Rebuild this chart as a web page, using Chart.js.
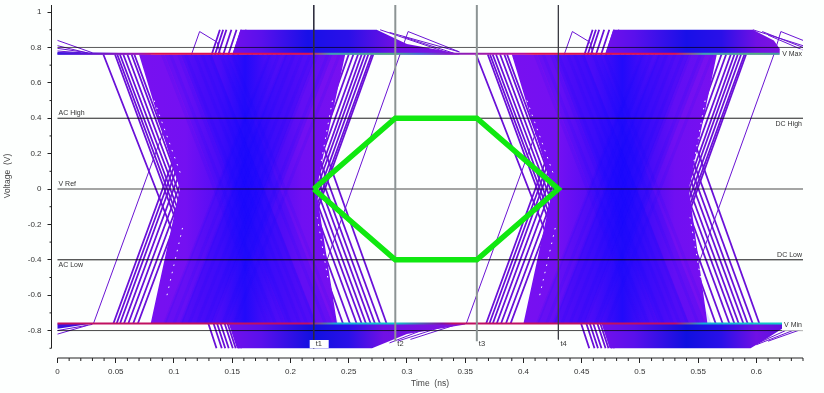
<!DOCTYPE html>
<html>
<head>
<meta charset="utf-8">
<style>
  html, body { margin: 0; padding: 0; background: #fdfffe; }
  canvas { display: block; }
</style>
<script src="https://cdn.jsdelivr.net/npm/chart.js@4/dist/chart.umd.min.js"></script>
</head>
<body>
<canvas id="eyeChart" width="824" height="393"></canvas>
<script>
// axis ticks
const xTicks = [0, 0.05, 0.1, 0.15, 0.2, 0.25, 0.3, 0.35, 0.4, 0.45, 0.5, 0.55, 0.6];
const xTickLabels = ['0', '0.05', '0.1', '0.15', '0.2', '0.25', '0.3', '0.35', '0.4', '0.45', '0.5', '0.55', '0.6'];
const yTicks = [1, 0.8, 0.6, 0.4, 0.2, 0, -0.2, -0.4, -0.6, -0.8];
const yTickLabels = ['1', '0.8', '0.6', '0.4', '0.2', '0', '-0.2', '-0.4', '-0.6', '-0.8'];
const xMinorTicks = [0.01, 0.02, 0.03, 0.04, 0.06, 0.07, 0.08, 0.09, 0.11, 0.12, 0.13, 0.14, 0.16, 0.17, 0.18, 0.19, 0.21, 0.22, 0.23, 0.24, 0.26, 0.27, 0.28, 0.29, 0.31, 0.32, 0.33, 0.34, 0.36, 0.37, 0.38, 0.39, 0.41, 0.42, 0.43, 0.44, 0.46, 0.47, 0.48, 0.49, 0.51, 0.52, 0.53, 0.54, 0.56, 0.57, 0.58, 0.59, 0.61, 0.62, 0.63, 0.64];
const yMinorTicks = [0.9, 0.7, 0.5, 0.3, 0.1, -0.1, -0.3, -0.5, -0.7, -0.9];

// reference levels and timing markers
const levelValues = [0.8, 0.4, 0, -0.4, -0.8];
const markerTimes = [0.22, 0.29, 0.36, 0.43];
const markerEnds = [-0.9, -0.86, -0.86, -0.85];
const markerNames = ['t1', 't2', 't3', 't4'];

// eye mask
const maskTimes = [0.22, 0.29, 0.36, 0.43, 0.36, 0.29, 0.22];
const maskVolts = [0, 0.4, 0.4, 0, -0.4, -0.4, 0];

// dense regions of the trace cloud, [time, volt]
const bodyOne = [[0.07, 0.76], [0.105, 0], [0.08, -0.76], [0.24, -0.76], [0.222, 0], [0.247, 0.76]];
const bodyTwo = [[0.39, 0.76], [0.425, 0], [0.4, -0.76], [0.558, -0.76], [0.542, 0], [0.566, 0.76]];
const topBandOne = [[0.15, 0.76], [0.157, 0.9], [0.274, 0.9], [0.3, 0.82], [0.345, 0.765], [0.345, 0.76]];
const topBandTwo = [[0.47, 0.76], [0.477, 0.9], [0.597, 0.9], [0.615, 0.84], [0.622, 0.775], [0.622, 0.76]];
const botBandOne = [[0.147, -0.76], [0.154, -0.9], [0.27, -0.9], [0.3, -0.82], [0.35, -0.765], [0.35, -0.76]];
const botBandTwo = [[0.467, -0.76], [0.474, -0.9], [0.595, -0.9], [0.61, -0.84], [0.622, -0.79], [0.622, -0.76]];
const startTop = [[0, 0.775], [0.08, 0.766], [0.08, 0.76], [0, 0.76]];
const startBot = [[0, -0.76], [0.03, -0.76], [0, -0.79]];

// blue crossing arms, [time, volt]
const armsWide = [
  [[0.092, 0.76], [0.146, 0.76], [0.236, -0.76], [0.182, -0.76]],
  [[0.092, -0.76], [0.146, -0.76], [0.236, 0.76], [0.182, 0.76]],
  [[0.412, 0.76], [0.466, 0.76], [0.556, -0.76], [0.502, -0.76]],
  [[0.412, -0.76], [0.466, -0.76], [0.556, 0.76], [0.502, 0.76]]
];
const armsNarrow = [
  [[0.106, 0.76], [0.132, 0.76], [0.222, -0.76], [0.196, -0.76]],
  [[0.106, -0.76], [0.132, -0.76], [0.222, 0.76], [0.196, 0.76]],
  [[0.426, 0.76], [0.452, 0.76], [0.542, -0.76], [0.516, -0.76]],
  [[0.426, -0.76], [0.452, -0.76], [0.542, 0.76], [0.516, 0.76]]
];

// falling edges, [time at +0.76, time at -0.76]
const fallEdgesLeft = [[0.0394, 0.1295], [0.0494, 0.134], [0.0513, 0.137], [0.0536, 0.14], [0.0565, 0.1435], [0.06, 0.146], [0.0636, 0.149], [0.066, 0.151],
  [0.3594, 0.4495], [0.3694, 0.454], [0.3713, 0.457], [0.3736, 0.46], [0.3765, 0.4635], [0.38, 0.466], [0.3836, 0.469], [0.386, 0.471]];
const fallEdgesRight = [[0.163, 0.245], [0.167, 0.251], [0.172, 0.2568], [0.176, 0.2611], [0.18, 0.2648], [0.184, 0.2688], [0.188, 0.2725], [0.192, 0.2768], [0.2, 0.2825],
  [0.483, 0.565], [0.487, 0.571], [0.492, 0.5768], [0.496, 0.5811], [0.5, 0.5848], [0.504, 0.5888], [0.508, 0.5925], [0.512, 0.5968], [0.52, 0.6025]];

// rising edges, [time at -0.76, time at +0.76]
const riseEdgesLeft = [[0.048, 0.1324], [0.0508, 0.1352], [0.0537, 0.138], [0.0571, 0.1423], [0.0608, 0.1467], [0.065, 0.151], [0.069, 0.155],
  [0.368, 0.4524], [0.3708, 0.4552], [0.3737, 0.458], [0.3771, 0.4623], [0.3808, 0.4667], [0.385, 0.471], [0.389, 0.475]];
const riseEdgesRight = [[0.168, 0.25], [0.171, 0.254], [0.175, 0.258], [0.179, 0.2611], [0.181, 0.264], [0.184, 0.2668], [0.186, 0.2697], [0.188, 0.2711],
  [0.488, 0.57], [0.491, 0.574], [0.495, 0.578], [0.499, 0.5811], [0.501, 0.584], [0.504, 0.5868], [0.506, 0.5897], [0.508, 0.5911]];

// lone traces, [time, volt]
const loneTraces = [
  [[0.0309, -0.76], [0.115, 0.76], [0.122, 0.89], [0.137, 0.83], [0.14, 0.76]],
  [[0.212, -0.76], [0.294, 0.76], [0.301, 0.89], [0.345, 0.775]],
  [[0.351, -0.76], [0.435, 0.76], [0.442, 0.89], [0.457, 0.83], [0.46, 0.76]],
  [[0.532, -0.76], [0.615, 0.76], [0.621, 0.89], [0.64, 0.84]],
  [[0, 0.84], [0.03, 0.77]], [[0, 0.81], [0.025, 0.77]], [[0, 0.795], [0.026, 0.77]], [[0, 0.78], [0.02, 0.77]],
  [[0, -0.82], [0.026, -0.77]], [[0, -0.8], [0.03, -0.765]],
  [[0.277, 0.9], [0.335, 0.77]], [[0.285, 0.885], [0.345, 0.775]], [[0.297, 0.86], [0.34, 0.768]],
  [[0.597, 0.9], [0.64, 0.81]], [[0.605, 0.89], [0.64, 0.8]], [[0.61, 0.87], [0.64, 0.785]],
  [[0.343, -0.765], [0.303, -0.85]], [[0.335, -0.768], [0.292, -0.86]], [[0.32, -0.78], [0.285, -0.87]],
  [[0.64, -0.79], [0.61, -0.86]], [[0.635, -0.79], [0.6, -0.88]], [[0.625, -0.8], [0.595, -0.89]]
];

// faint streaks inside the cloud, [time at +0.76, time at -0.76]
const blueFalls = [[0.09, 0.18], [0.097, 0.187], [0.104, 0.194], [0.11, 0.2], [0.118, 0.208], [0.124, 0.214], [0.131, 0.221], [0.14, 0.23], [0.15, 0.24],
  [0.41, 0.5], [0.417, 0.507], [0.424, 0.514], [0.43, 0.52], [0.438, 0.528], [0.444, 0.534], [0.451, 0.541], [0.46, 0.55], [0.47, 0.56]];
const blueRises = [[0.092, 0.182], [0.1, 0.19], [0.106, 0.196], [0.113, 0.203], [0.12, 0.21], [0.127, 0.217], [0.133, 0.223], [0.142, 0.232], [0.152, 0.242],
  [0.412, 0.502], [0.42, 0.51], [0.426, 0.516], [0.433, 0.523], [0.44, 0.53], [0.447, 0.537], [0.453, 0.543], [0.462, 0.552], [0.472, 0.562]];

// gaps along the cloud edge, [[time, volt], [time, volt]]
const edgeGaps = [
  [[0.083, 0.5], [0.106, 0.08]], [[0.094, -0.6], [0.108, -0.2]],
  [[0.236, 0.5], [0.226, 0.14]], [[0.232, -0.5], [0.223, -0.16]],
  [[0.403, 0.5], [0.426, 0.08]], [[0.414, -0.6], [0.428, -0.2]],
  [[0.556, 0.5], [0.546, 0.14]], [[0.552, -0.5], [0.543, -0.16]]
];

// colour along the two rails, [time, colour]
const topRailStops = [[0, '#3a18e0'], [0.07, '#a014b0'], [0.085, '#e0104c'], [0.215, '#e0104c'], [0.235, '#40a0b0'], [0.285, '#50b080'], [0.31, '#4070d0'], [0.335, '#8020c0'], [0.4, '#c01090'], [0.41, '#e0104c'], [0.53, '#e0104c'], [0.555, '#40a0b0'], [0.6, '#50b080'], [0.62, '#40a0a0']];
const botRailStops = [[0, '#c01060'], [0.215, '#c01060'], [0.24, '#10b0d8'], [0.29, '#10c8c8'], [0.33, '#8010a0'], [0.34, '#c01060'], [0.53, '#c01060'], [0.555, '#10b0d8'], [0.6, '#10c8c8'], [0.622, '#10c8c8']];

const axisFont = { family: "'Liberation Sans', sans-serif", size: 8 };
const datasets = [];

function toPoints(pairs) {
  return pairs.map(function (p) { return { x: p[0], y: p[1] }; });
}

function addLine(pairs, color, width, extra) {
  datasets.push(Object.assign({
    data: toPoints(pairs),
    borderColor: color,
    borderWidth: width,
    pointRadius: 0,
    showLine: true,
    tension: 0,
    fill: false
  }, extra || {}));
}

function addArea(pairs, color) {
  addLine(pairs.concat([pairs[0]]), 'rgba(0,0,0,0)', 0, { fill: 'shape', backgroundColor: color });
}

// horizontal gradient tied to the time axis
function timeGradient(stops) {
  return function (context) {
    const chart = context.chart;
    const x = chart.scales.x;
    if (!chart.chartArea || !x) return stops[0][1];
    const first = stops[0][0];
    const last = stops[stops.length - 1][0];
    const g = chart.ctx.createLinearGradient(x.getPixelForValue(first), 0, x.getPixelForValue(last), 0);
    stops.forEach(function (s) { g.addColorStop((s[0] - first) / (last - first), s[1]); });
    return g;
  };
}

// outlying traces go under the cloud so they only show on the white
const traceColor = '#6a10d8';
fallEdgesLeft.forEach(function (e) { addLine([[e[0], 0.76], [e[1], -0.76], [e[1] + 0.007, -0.9]], traceColor, 1.8); });
riseEdgesLeft.forEach(function (e) { addLine([[e[0], -0.76], [e[1], 0.76], [e[1] + 0.007, 0.9]], traceColor, 1.8); });
fallEdgesRight.forEach(function (e) { addLine([[e[0], 0.76], [e[1], -0.76]], traceColor, 1.8); });
riseEdgesRight.forEach(function (e) { addLine([[e[0], -0.76], [e[1], 0.76]], traceColor, 1.8); });
loneTraces.forEach(function (t) { addLine(t, '#6a14d4', 1); });

addArea(bodyOne, timeGradient([[0.07, '#7810f0'], [0.11, '#7410f2'], [0.14, '#520cf6'], [0.161, '#220afa'], [0.185, '#520cf6'], [0.21, '#700ff2'], [0.247, '#7810f0']]));
addArea(bodyTwo, timeGradient([[0.39, '#7810f0'], [0.43, '#7410f2'], [0.46, '#520cf6'], [0.485, '#220afa'], [0.51, '#520cf6'], [0.53, '#700ff2'], [0.566, '#7810f0']]));
addArea(topBandOne, timeGradient([[0.15, '#7210ec'], [0.175, '#5a10ec'], [0.215, '#1810e8'], [0.25, '#2a10e8'], [0.29, '#7010e4'], [0.345, '#8014e0']]));
addArea(topBandTwo, timeGradient([[0.47, '#7210ec'], [0.495, '#5a10ec'], [0.54, '#1810e8'], [0.57, '#2a10e8'], [0.6, '#7010e4'], [0.622, '#8014e0']]));
addArea(botBandOne, timeGradient([[0.147, '#7210ec'], [0.175, '#5a10ec'], [0.22, '#1010e0'], [0.25, '#2a10e8'], [0.28, '#7010e4'], [0.35, '#8014e0']]));
addArea(botBandTwo, timeGradient([[0.467, '#7210ec'], [0.495, '#5a10ec'], [0.54, '#1010e0'], [0.57, '#2a10e8'], [0.6, '#7010e4'], [0.622, '#6010e0']]));
addArea(startTop, '#4a12dc');
addArea(startBot, '#3a10e0');

armsWide.forEach(function (arm) { addArea(arm, 'rgba(24,10,255,0.16)'); });
armsNarrow.forEach(function (arm) { addArea(arm, 'rgba(24,10,255,0.24)'); });

blueFalls.forEach(function (e) { addLine([[e[0], 0.76], [e[1], -0.76]], 'rgba(20,10,255,0.1)', 3); });
blueRises.forEach(function (e) { addLine([[e[0], -0.76], [e[1], 0.76]], 'rgba(20,10,255,0.1)', 3); });

edgeGaps.forEach(function (g) { addLine(g, '#fdfffe', 1, { borderDash: [1.5, 6] }); });

addLine([[0, 0.765], [0.62, 0.765]], timeGradient(topRailStops), 2);
addLine([[0, -0.76], [0.622, -0.76]], timeGradient(botRailStops), 1.8);

// level lines, see-through so they go dark over the cloud
const levelColors = ['rgba(0,0,0,0.65)', 'rgba(0,0,0,0.88)', 'rgba(0,0,0,0.47)', 'rgba(0,0,0,0.92)', 'rgba(0,0,0,0.72)'];
const levelWidths = [1, 1, 1.4, 1, 1];
levelValues.forEach(function (v, i) { addLine([[0, v], [0.64, v]], levelColors[i], levelWidths[i]); });

// timing markers
const markerColors = ['#2c2c3c', '#8c9494', '#8c9494', '#3c3c44'];
const markerWidths = [1, 2, 2, 1];
markerTimes.forEach(function (t, i) { addLine([[t, 1.04], [t, markerEnds[i]]], markerColors[i], markerWidths[i]); });

// mask on top
addLine(maskTimes.map(function (t, i) { return [t, maskVolts[i]]; }), '#10e810', 5.5, { borderJoinStyle: 'miter' });

// first entry in the list is drawn last, so flip the order
datasets.forEach(function (d, i) { d.order = datasets.length - i; });

// axis lines, minor ticks, titles and the level / marker captions
const annotate = {
  id: 'annotate',
  afterDatasetsDraw: function (chart) {
    const ctx = chart.ctx;
    const x = chart.scales.x;
    const y = chart.scales.y;
    const area = chart.chartArea;
    ctx.save();

    // axes sit away from the plot
    ctx.strokeStyle = '#222';
    ctx.lineWidth = 1;
    ctx.beginPath();
    ctx.moveTo(area.left, y.getPixelForValue(1.04));
    ctx.lineTo(area.left, y.getPixelForValue(-0.9));
    ctx.moveTo(x.getPixelForValue(0), area.bottom);
    ctx.lineTo(x.getPixelForValue(0.64), area.bottom);
    xMinorTicks.forEach(function (t) {
      ctx.moveTo(x.getPixelForValue(t), area.bottom);
      ctx.lineTo(x.getPixelForValue(t), area.bottom + 3);
    });
    yMinorTicks.forEach(function (v) {
      ctx.moveTo(area.left, y.getPixelForValue(v));
      ctx.lineTo(area.left - 2, y.getPixelForValue(v));
    });
    ctx.stroke();

    ctx.font = "7px 'Liberation Sans', sans-serif";
    ctx.textBaseline = 'middle';

    // white boxes behind some captions
    ctx.fillStyle = '#fdfffe';
    ctx.fillRect(x.getPixelForValue(0.62), y.getPixelForValue(0.79), 23, 9);
    ctx.fillRect(x.getPixelForValue(0.622), y.getPixelForValue(-0.755), 21, 8);
    ctx.fillRect(x.getPixelForValue(0.2165), 340, 19, 8);

    ctx.fillStyle = '#333';
    ctx.textAlign = 'left';
    ctx.fillText('AC High', x.getPixelForValue(0) + 1, y.getPixelForValue(0.4) - 5);
    ctx.fillText('V Ref', x.getPixelForValue(0) + 1, y.getPixelForValue(0) - 5);
    ctx.fillText('AC Low', x.getPixelForValue(0) + 1, y.getPixelForValue(-0.4) + 5);
    ctx.textAlign = 'right';
    ctx.fillText('V Max', area.right - 1, y.getPixelForValue(0.76));
    ctx.fillText('DC High', area.right - 1, y.getPixelForValue(0.4) + 6);
    ctx.fillText('DC Low', area.right - 1, y.getPixelForValue(-0.4) - 5);
    ctx.fillText('V Min', area.right - 1, y.getPixelForValue(-0.77));
    ctx.textAlign = 'left';
    ctx.font = "7.5px 'Liberation Sans', sans-serif";
    markerNames.forEach(function (name, i) {
      ctx.fillText(name, x.getPixelForValue(markerTimes[i]) + 2, 344);
    });

    // axis titles
    ctx.font = "8.5px 'Liberation Sans', sans-serif";
    ctx.fillStyle = '#444';
    ctx.textAlign = 'center';
    ctx.fillText('Time  (ns)', 430, 384);
    ctx.translate(8, 176);
    ctx.rotate(-Math.PI / 2);
    ctx.fillText('Voltage  (V)', 0, 0);
    ctx.restore();
  }
};

function noOverflow(scale) {
  scale.paddingTop = 0;
  scale.paddingBottom = 0;
  scale.paddingLeft = 0;
  scale.paddingRight = 0;
}

new Chart(document.getElementById('eyeChart').getContext('2d'), {
  type: 'scatter',
  data: { datasets: datasets },
  plugins: [annotate],
  options: {
    responsive: false,
    animation: false,
    events: [],
    layout: { padding: { top: 5, right: 21, bottom: 0, left: 0 } },
    plugins: { legend: { display: false }, tooltip: { enabled: false } },
    scales: {
      x: {
        type: 'linear',
        min: -0.00515,
        max: 0.64,
        afterBuildTicks: function (scale) { scale.ticks = xTicks.map(function (v) { return { value: v }; }); },
        afterFit: function (scale) { scale.height = 35; noOverflow(scale); },
        border: { display: false },
        grid: { drawOnChartArea: false, tickLength: 5, tickColor: '#222' },
        ticks: {
          autoSkip: false,
          maxRotation: 0,
          padding: 4,
          color: '#333',
          font: axisFont,
          callback: function (value) { return xTickLabels[xTicks.indexOf(value)]; }
        }
      },
      y: {
        type: 'linear',
        min: -0.955,
        max: 1.04,
        afterBuildTicks: function (scale) { scale.ticks = yTicks.map(function (v) { return { value: v }; }); },
        afterFit: function (scale) { scale.width = 51.5; noOverflow(scale); },
        border: { display: false },
        grid: { drawOnChartArea: false, tickLength: 4, tickColor: '#222' },
        ticks: {
          autoSkip: false,
          padding: 6,
          color: '#333',
          font: axisFont,
          callback: function (value) { return yTickLabels[yTicks.indexOf(value)]; }
        }
      }
    }
  }
});
</script>
</body>
</html>
